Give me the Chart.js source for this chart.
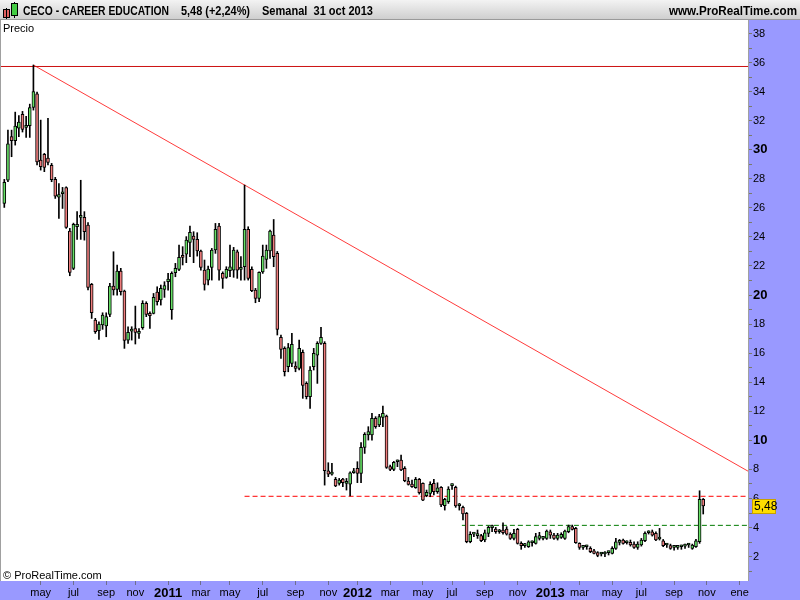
<!DOCTYPE html>
<html>
<head>
<meta charset="utf-8">
<title>CECO - CAREER EDUCATION</title>
<script src="https://cdn.jsdelivr.net/npm/chart.js@4/dist/chart.umd.min.js"></script>
<style>
  html, body { margin: 0; padding: 0; background: #fff; }
  #wrap { width: 800px; height: 600px; }
</style>
</head>
<body>
<div id="wrap"><canvas id="chart" width="800" height="600"></canvas></div>
<script>
// weekly candles, first week starts Monday 2010-02-22, last one is 2013-10-28
const firstWeek = '2010-02-22';

const open = [
  26.3, 27.9, 30.9, 30.62, 31.49, 32.43, 31.54, 31.65, 32.91, 33.85,
  29.29, 29.68, 29.43, 28.92, 27.96, 26.74, 26.97, 27.39, 24.41, 21.84,
  24.7, 25.35, 25.35, 24.82, 20.73, 18.28, 17.55, 17.94, 17.87, 18.67,
  20.62, 20.39, 21.65, 20.28, 16.9, 17.52, 17.7, 17.36, 17.75, 19.43,
  18.74, 18.74, 20.2, 19.66, 20.39, 20.92, 19.0, 21.54, 21.77, 22.73,
  22.82, 23.63, 24.06, 23.83, 23.03, 21.72, 21.03, 21.9, 23.1, 24.75,
  21.49, 21.22, 21.68, 21.72, 22.98, 21.77, 21.95, 24.52, 21.77, 20.34,
  19.77, 21.6, 22.45, 23.03, 24.13, 22.87, 17.09, 16.33, 15.07, 15.3,
  15.12, 14.95, 16.06, 13.92, 13.0, 15.07, 15.87, 16.67, 16.67, 7.91,
  7.68, 7.31, 7.04, 7.34, 7.04, 6.99, 7.77, 8.07, 7.73, 9.52,
  10.37, 10.37, 11.51, 11.06, 11.58, 11.67, 8.19, 8.0, 8.53, 8.65,
  8.07, 7.2, 6.99, 6.74, 7.31, 7.04, 6.19, 6.35, 7.04, 6.46,
  6.76, 5.5, 5.78, 6.88, 6.76, 5.5, 5.39, 4.97, 3.02, 3.55,
  3.44, 3.44, 3.14, 3.6, 3.99, 3.9, 3.71, 3.82, 3.9, 3.55,
  3.25, 3.87, 2.91, 2.75, 2.68, 2.95, 2.91, 3.25, 3.25, 3.25,
  3.71, 3.48, 3.25, 3.32, 3.25, 3.71, 4.06, 3.94, 2.91, 2.63,
  2.68, 2.57, 2.4, 2.27, 2.18, 2.18, 2.27, 2.22, 2.57, 2.98,
  3.14, 2.95, 2.98, 2.86, 2.63, 2.8, 3.09, 3.64, 3.71, 3.6,
  3.21, 3.09, 2.8, 2.75, 2.63, 2.63, 2.68, 2.72, 2.8, 2.57,
  2.68, 3.02, 5.94
];
const high = [
  27.96, 31.35, 31.35, 32.59, 32.36, 32.64, 32.3, 33.14, 35.83, 33.97,
  32.04, 29.75, 32.16, 29.06, 28.1, 27.68, 27.41, 27.45, 24.59, 24.95,
  25.74, 27.9, 25.74, 24.98, 20.8, 18.4, 18.16, 18.78, 18.78, 20.8,
  22.98, 22.07, 21.84, 20.34, 17.82, 17.82, 19.24, 17.7, 19.61, 19.54,
  18.85, 20.11, 20.57, 20.69, 20.92, 21.49, 21.6, 22.18, 23.44, 23.33,
  24.02, 24.75, 24.36, 24.29, 23.1, 22.41, 22.0, 23.21, 24.93, 24.93,
  21.6, 21.95, 23.44, 23.28, 23.1, 22.64, 27.57, 24.7, 21.95, 20.46,
  21.6, 23.44, 23.44, 24.47, 25.2, 23.0, 17.25, 16.44, 16.67, 17.36,
  15.41, 16.9, 16.22, 14.03, 15.07, 16.33, 16.79, 17.77, 16.79, 8.46,
  8.42, 7.45, 7.38, 7.38, 7.38, 7.84, 8.07, 8.53, 9.84, 10.53,
  10.94, 11.86, 11.63, 11.79, 12.36, 11.74, 8.3, 8.55, 8.65, 8.99,
  8.19, 7.45, 7.27, 7.45, 7.38, 7.08, 6.58, 7.15, 7.31, 7.08,
  6.81, 6.01, 6.81, 7.0, 6.85, 5.66, 5.48, 5.04, 3.71, 3.64,
  3.83, 3.53, 3.83, 4.1, 4.17, 4.01, 3.87, 4.33, 4.06, 3.64,
  3.87, 3.94, 3.02, 2.91, 3.09, 3.09, 3.6, 3.67, 3.37, 3.83,
  3.83, 3.6, 3.6, 3.64, 3.83, 4.17, 4.17, 4.01, 2.95, 2.72,
  2.79, 2.68, 2.5, 2.34, 2.29, 2.34, 2.38, 2.68, 3.25, 3.18,
  3.21, 3.09, 3.14, 3.02, 3.02, 3.25, 3.71, 3.78, 3.83, 3.71,
  3.94, 3.18, 2.91, 2.86, 2.72, 2.72, 2.79, 2.86, 2.91, 2.86,
  3.18, 6.53, 6.0
];
const low = [
  26.03, 27.8, 29.52, 30.32, 30.9, 31.22, 30.85, 30.85, 32.73, 28.95,
  28.6, 28.49, 28.95, 27.8, 26.65, 25.27, 25.96, 24.59, 21.33, 21.75,
  23.83, 23.83, 23.78, 20.35, 18.39, 17.36, 16.95, 17.64, 17.13, 18.51,
  20.0, 20.0, 20.0, 16.33, 16.67, 16.9, 16.63, 17.02, 17.64, 18.51,
  17.7, 18.7, 19.31, 19.31, 19.84, 20.34, 18.33, 21.26, 21.68, 22.07,
  22.23, 22.64, 22.23, 22.68, 21.72, 20.34, 20.69, 21.03, 22.87, 21.03,
  20.46, 21.15, 21.26, 21.22, 21.15, 21.03, 21.03, 21.03, 20.23, 19.47,
  19.54, 21.49, 21.84, 22.52, 21.95, 17.25, 15.64, 14.43, 14.72, 15.07,
  14.72, 14.84, 12.89, 12.85, 12.2, 14.84, 13.92, 16.6, 6.92, 7.5,
  7.6, 6.81, 6.92, 6.81, 6.58, 6.17, 7.73, 7.09, 7.09, 9.1,
  10.02, 10.02, 10.83, 10.94, 10.94, 8.07, 7.91, 7.91, 8.19, 7.91,
  7.15, 6.92, 6.76, 6.7, 6.3, 5.85, 6.12, 6.12, 6.24, 6.35,
  5.43, 5.2, 5.66, 6.62, 5.39, 5.2, 4.52, 2.95, 2.95, 3.37,
  3.25, 3.02, 3.02, 3.37, 3.71, 3.6, 3.6, 3.55, 3.48, 3.18,
  3.14, 2.86, 2.5, 2.63, 2.63, 2.72, 2.86, 3.14, 3.14, 3.18,
  3.25, 3.18, 3.14, 3.25, 3.18, 3.64, 3.83, 2.91, 2.5, 2.5,
  2.5, 2.27, 2.18, 1.99, 2.04, 1.99, 2.11, 2.18, 2.5, 2.8,
  2.86, 2.86, 2.72, 2.57, 2.5, 2.72, 3.02, 3.55, 3.41, 3.09,
  3.14, 2.68, 2.63, 2.5, 2.45, 2.5, 2.5, 2.57, 2.63, 2.5,
  2.63, 2.91, 4.93
];
const close = [
  27.75, 30.4, 30.62, 31.63, 31.9, 31.4, 31.67, 32.91, 34.01, 29.17,
  28.83, 28.78, 29.13, 27.94, 26.81, 26.92, 26.97, 24.66, 21.56, 24.86,
  24.86, 25.35, 24.36, 20.53, 18.78, 17.48, 18.0, 18.62, 18.51, 20.62,
  20.35, 21.65, 20.23, 16.88, 17.43, 17.52, 17.43, 17.5, 19.43, 18.67,
  18.58, 19.84, 19.54, 20.46, 20.66, 21.1, 21.49, 21.84, 22.59, 22.59,
  23.79, 24.31, 23.83, 23.03, 21.9, 20.73, 21.79, 23.1, 24.52, 21.72,
  21.15, 21.77, 21.95, 23.1, 21.72, 21.77, 24.52, 21.15, 20.3, 19.77,
  21.56, 22.68, 23.1, 24.41, 22.64, 17.64, 16.26, 14.72, 16.38, 16.61,
  14.95, 16.33, 13.78, 13.0, 14.84, 15.99, 16.67, 17.09, 7.91, 7.68,
  7.68, 6.86, 7.27, 7.09, 7.04, 7.77, 7.91, 7.73, 9.52, 10.41,
  10.6, 11.51, 10.94, 11.63, 11.86, 8.14, 8.0, 8.48, 8.53, 7.96,
  7.22, 6.97, 6.81, 7.31, 6.4, 5.89, 6.42, 6.97, 6.46, 6.74,
  5.55, 5.94, 6.65, 6.88, 5.48, 5.5, 4.93, 3.02, 3.53, 3.55,
  3.44, 3.09, 3.64, 4.01, 3.99, 3.71, 3.71, 3.64, 3.55, 3.25,
  3.6, 2.91, 2.75, 2.75, 3.02, 2.95, 3.37, 3.44, 3.25, 3.76,
  3.48, 3.25, 3.48, 3.53, 3.76, 4.06, 3.87, 2.95, 2.63, 2.63,
  2.68, 2.34, 2.22, 2.08, 2.18, 2.18, 2.27, 2.57, 3.02, 2.98,
  2.91, 2.95, 2.8, 2.63, 2.86, 3.14, 3.6, 3.64, 3.48, 3.14,
  3.21, 2.75, 2.8, 2.57, 2.63, 2.63, 2.68, 2.72, 2.8, 2.8,
  3.09, 5.94, 5.48
];

// month axis: labels and the month each one marks
const tickLabels = ['may','jul','sep','nov','2011','mar','may','jul','sep','nov','2012','mar',
                    'may','jul','sep','nov','2013','mar','may','jul','sep','nov','ene'];
const tickMonths = ['2010-05','2010-07','2010-09','2010-11','2011-01','2011-03','2011-05','2011-07','2011-09','2011-11','2012-01','2012-03',
                    '2012-05','2012-07','2012-09','2012-11','2013-01','2013-03','2013-05','2013-07','2013-09','2013-11','2014-01'];

// drawn lines: resistance top, trend line, two dashed levels
const topLevel = 35.73;
const trendFrom = { week: 8, price: 35.83 };
const trendToPrice = 7.88;
const redLevel = 6.15, redFromWeek = 66;
const greenLevel = 4.15, greenFromWeek = 125.7;
const lastPrice = '5,48';

// ---- helpers
const t0 = Date.parse(firstWeek + 'T00:00:00Z');
const DAY = 86400000;
const weekOf = ym => Math.ceil((Date.parse(ym + '-01T00:00:00Z') - t0) / DAY / 7);
const monthTicks = tickMonths.map(weekOf);

const X_MIN = -1.18, X_MAX = 204.3;
const BAND = '#9999ff';
const UP = '#66e066', DOWN = '#ee7d7d';
const FONT = '"Liberation Sans", Arial, sans-serif';

const weeks = open.map((_, i) => i);
const bodies = weeks.map(i => ({ x: i, y: [open[i], close[i]] }));
const wicks = weeks.map(i => ({ x: i, y: [low[i], high[i]] }));
const bodyColors = weeks.map(i => close[i] >= open[i] ? UP : DOWN);

const chrome = {
  id: 'chrome',
  beforeDraw(chart) {
    const c = chart.ctx, a = chart.chartArea;
    c.save();
    c.fillStyle = '#fff';
    c.fillRect(0, 0, 800, 600);
    c.fillStyle = BAND;
    c.fillRect(a.right, a.top, 800 - a.right, 600 - a.top);
    c.fillRect(0, a.bottom, 800, 600 - a.bottom);
    // title bar
    const g = c.createLinearGradient(0, 0, 0, a.top);
    g.addColorStop(0, '#f3f3f3');
    g.addColorStop(1, '#cdcdcd');
    c.fillStyle = g;
    c.fillRect(0, 0, 800, a.top);
    c.fillStyle = '#9a9a9a';
    c.fillRect(0, a.top - 1, 800, 1);
    // little candle icon
    c.fillStyle = '#e06060'; c.fillRect(4, 10, 5, 7);
    c.fillStyle = '#000'; c.fillRect(6, 8, 1, 11);
    c.strokeStyle = '#000'; c.lineWidth = 1; c.strokeRect(3.5, 9.5, 6, 8);
    c.fillStyle = '#44cc44'; c.fillRect(12, 4, 5, 11);
    c.fillStyle = '#000'; c.fillRect(14, 2, 1, 16);
    c.fillStyle = '#44cc44'; c.fillRect(12, 4, 5, 11);
    c.strokeRect(11.5, 3.5, 6, 12);
    c.fillStyle = '#000';
    c.font = 'bold 12px ' + FONT;
    c.textBaseline = 'alphabetic';
    c.fillText('CECO - CAREER EDUCATION', 23, 15, 146);
    c.fillText('5,48 (+2,24%)', 181, 15, 69);
    c.fillText('Semanal  31 oct 2013', 262, 15, 111);
    c.textAlign = 'right';
    c.fillText('www.ProRealTime.com', 797, 15, 128);
    c.restore();
  },
  afterDraw(chart) {
    const c = chart.ctx, a = chart.chartArea, y = chart.scales.y;
    c.save();
    c.fillStyle = '#a0a0a0';
    c.fillRect(0, a.top, 1, a.bottom - a.top);
    c.fillRect(a.right, a.top, 1, a.bottom - a.top);
    c.fillStyle = '#000';
    c.font = '11px ' + FONT;
    c.fillText('Precio', 3, 32);
    c.fillText('\u00a9 ProRealTime.com', 3, 579);
    // last price tag
    const py = Math.round(y.getPixelForValue(5.48));
    c.fillStyle = '#ffdd00';
    c.fillRect(752, py - 7, 24, 15);
    c.strokeStyle = '#c8a000';
    c.strokeRect(752.5, py - 6.5, 23, 14);
    c.fillStyle = '#000';
    c.font = '12px ' + FONT;
    c.textBaseline = 'middle';
    c.fillText(lastPrice, 754, py + 1);
    c.restore();
  }
};

new Chart(document.getElementById('chart'), {
  type: 'bar',
  data: {
    datasets: [
      {
        type: 'line', order: 3,
        data: [{ x: X_MIN, y: topLevel }, { x: X_MAX, y: topLevel }],
        borderColor: '#cc1111', borderWidth: 1, pointRadius: 0
      },
      {
        type: 'line', order: 3,
        data: [{ x: trendFrom.week, y: trendFrom.price }, { x: X_MAX, y: trendToPrice }],
        borderColor: '#ff3b3b', borderWidth: 1, pointRadius: 0
      },
      {
        type: 'line', order: 3,
        data: [{ x: redFromWeek, y: redLevel }, { x: X_MAX, y: redLevel }],
        borderColor: '#ff0000', borderWidth: 1, borderDash: [5, 3], pointRadius: 0
      },
      {
        type: 'line', order: 3,
        data: [{ x: greenFromWeek, y: greenLevel }, { x: X_MAX, y: greenLevel }],
        borderColor: '#007a00', borderWidth: 1, borderDash: [5, 3], pointRadius: 0
      },
      {
        order: 2, data: wicks, backgroundColor: '#000',
        barThickness: 1, grouped: false, borderWidth: 0
      },
      {
        order: 1, data: bodies, backgroundColor: bodyColors,
        borderColor: '#000', borderWidth: 1, borderSkipped: false,
        barThickness: 3, minBarLength: 2, grouped: false
      }
    ]
  },
  options: {
    responsive: false,
    devicePixelRatio: 1,
    animation: false,
    events: [],
    layout: { padding: { top: 20, left: 0, right: 0, bottom: 0 } },
    plugins: { legend: { display: false }, tooltip: { enabled: false } },
    scales: {
      x: {
        type: 'linear', position: 'bottom', offset: false,
        min: X_MIN, max: X_MAX,
        afterFit: s => { s.height = 19; },
        afterBuildTicks: s => { s.ticks = monthTicks.map(v => ({ value: v })); },
        grid: { offset: false, drawOnChartArea: false, drawTicks: true, tickLength: 4, tickColor: '#6e6e8e' },
        border: { display: false },
        ticks: {
          autoSkip: false, maxRotation: 0, padding: 1, color: '#000',
          callback: (v, i) => tickLabels[i],
          font: ctx => /^\d{4}$/.test(tickLabels[ctx.index])
            ? { family: FONT, size: 13, weight: 'bold' }
            : { family: FONT, size: 11 }
        }
      },
      y: {
        type: 'linear', position: 'right',
        min: 0.32, max: 38.93,
        afterFit: s => { s.width = 52; },
        afterBuildTicks: s => {
          const t = [];
          for (let v = 1; v <= 38; v++) t.push({ value: v });
          s.ticks = t;
        },
        grid: { drawOnChartArea: false, drawTicks: true, tickLength: 4, tickColor: '#7a7a6a' },
        border: { display: false },
        ticks: {
          autoSkip: false, padding: 1, color: '#000',
          callback: v => v % 2 === 0 ? String(v) : '',
          font: ctx => ctx.tick && ctx.tick.value % 10 === 0
            ? { family: FONT, size: 13, weight: 'bold' }
            : { family: FONT, size: 11 }
        }
      }
    }
  },
  plugins: [chrome]
});
</script>
</body>
</html>
